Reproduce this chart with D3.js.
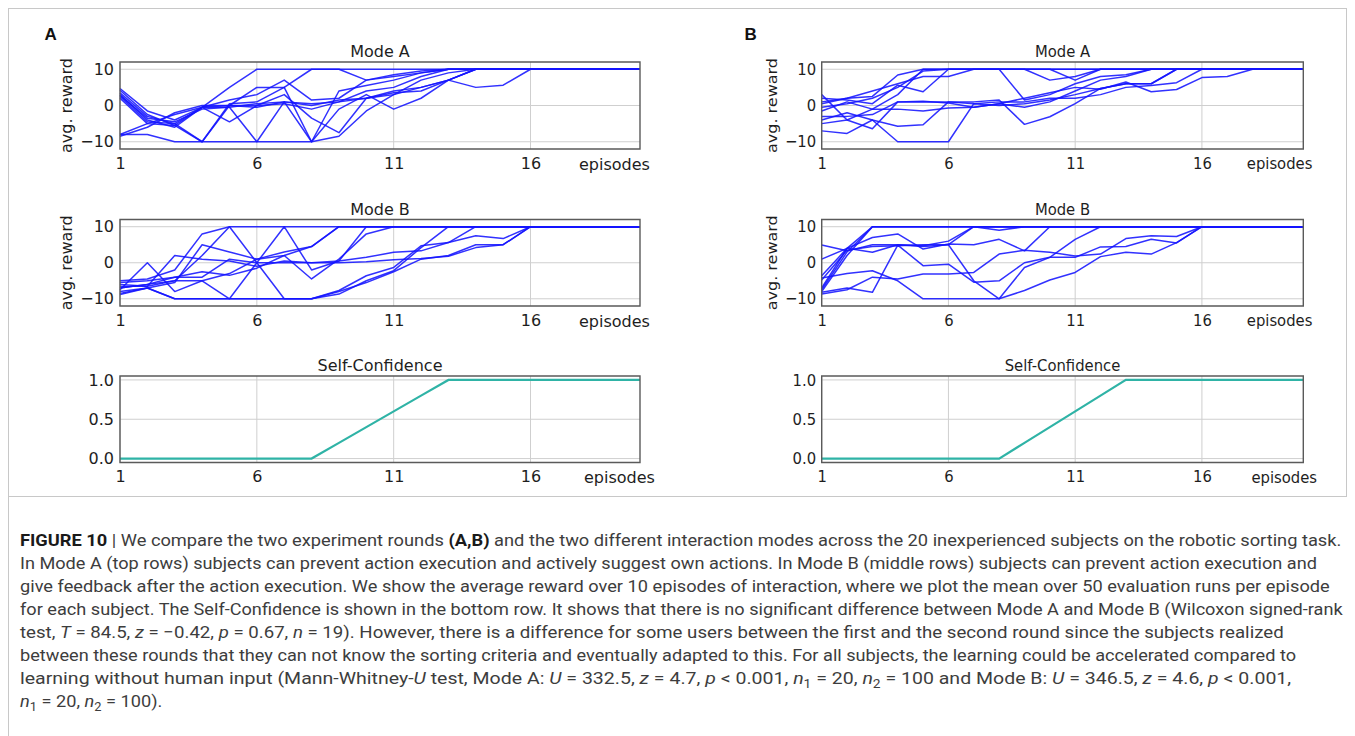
<!DOCTYPE html>
<html><head><meta charset="utf-8">
<script src="https://cdn.jsdelivr.net/npm/d3@7"></script>
<style>
html,body{margin:0;padding:0;background:#fff;}
svg{display:block;}
</style></head>
<body>
<svg id="chart" width="1355" height="736"></svg>
<script>
// ---------------- DATA ----------------
const episodes = [1,2,3,4,5,6,7,8,9,10,11,12,13,14,15,16,17,18,19,20];
const xTicks = [1,6,11,16];
const rewardTicks = [-10,0,10];
const confTicks = [0,0.5,1];
const confTickLabels = ["0.0","0.5","1.0"];
const panelLabels = ["A","B"];
const rowTitles = ["Mode A","Mode B","Self-Confidence"];

const roundA_modeA = [
  [4.7,-1.5,-4,-0.5,5,10,10,10,10,10,10,10,10,10,10,10,10,10,10,10],
  [4.2,-2.5,-5.5,-0.5,1.5,3,7,1.5,2,7,8.5,9.5,10,10,10,10,10,10,10,10],
  [3.5,-3,-5,-10,0,5,5,10,10,7,8,9,10,10,10,10,10,10,10,10],
  [3,-4,-6,-0.5,-4.5,0,3,-3.5,-7.5,2,4,5,7,5,5.6,10,10,10,10,10],
  [2.5,-4.5,-5,-0.5,0,-0.5,1,0.5,1,4,5,8,10,10,10,10,10,10,10,10],
  [2,-5,-5.5,-10,0.5,1,5,-10,4,5.5,7,9,10,10,10,10,10,10,10,10],
  [-8,-8,-10,-10,-10,-10,-10,-10,-8.5,-1.5,3,5,7,10,10,10,10,10,10,10],
  [-8,-5,-2.5,-0.5,-0.5,-10,1,0,1.5,2,3.5,4,7,10,10,10,10,10,10,10],
  [-8.5,-6,-2,0,0,0,0.5,-1,1,2,3,7,9,10,10,10,10,10,10,10],
  [2.8,-3.5,-4.5,-1,-0.5,0.5,1,-10,-1,3,-1,2,7,10,10,10,10,10,10,10]
];
const roundA_modeB = [
  [-5,-4.5,-2,8,10,10,10,10,10,10,10,10,10,10,10,10,10,10,10,10],
  [-6,-6.5,-5,-5,-10,-10,-10,-10,-8.7,-5,-2.2,4.2,10,10,10,10,10,10,10,10],
  [-7,-6,-5,2,10,0,-10,-10,-7.7,-3.6,-1.3,4.7,5.6,10,10,10,10,10,10,10],
  [-8,-7,-10,-10,-10,0,10,-2,0.5,10,10,10,10,10,10,10,10,10,10,10],
  [-8.5,-7,-5.5,5,3,1,3,4.5,10,10,10,10,10,10,10,10,10,10,10,10],
  [-5.5,-5,-4,-4,1,0,0,0,0.5,1.5,2.9,3.3,5.6,7.5,6.7,10,10,10,10,10],
  [-6.5,-6.5,2,1,0.5,-1,0.5,0,0,0.3,0.8,1.2,1.8,4.2,5,10,10,10,10,10],
  [-7.5,0,-8,-5,-3,1,2,4.5,10,10,10,10,10,10,10,10,10,10,10,10],
  [-7,-6,-4,-2.5,-3.5,-1.5,2,-4.5,1,8,10,10,10,10,10,10,10,10,10,10],
  [-8.8,-7,-10,-10,-10,-10,-10,-10,-8,-5.5,-2.5,1,2,5,5,10,10,10,10,10]
];
const roundB_modeA = [
  [-4,-2,-4,-10,-10,-10,0.5,0,0.5,1.5,3,4.7,6,6,10,10,10,10,10,10],
  [-7,-7.7,-4,-5.7,-5.3,1,1,1.5,-5.2,-3.1,0.5,4.7,6,6,10,10,10,10,10,10],
  [3,-4,-6.4,1,1.2,0.7,-0.5,0.5,2,3.5,5,4.5,6.5,3.8,4.4,7.7,8,10,10,10],
  [2,1.5,0.5,5.6,3.8,10,10,10,1.5,3,6,8,8.5,10,10,10,10,10,10,10],
  [1,2,2.5,8.4,10,10,10,10,10,10,7,10,10,10,10,10,10,10,10,10],
  [0.5,2,4,6,8,8,10,10,10,10,10,10,10,10,10,10,10,10,10,10],
  [-0.5,0.5,2,5,9.5,10,10,10,10,10,10,10,10,10,10,10,10,10,10,10],
  [-1.5,1,-1,-1,-1.5,-0.7,-0.5,0.5,-0.5,1,4,7,8,10,10,10,10,10,10,10],
  [-3,-3,-2.5,1,1,1,0.5,1,1,2,2,3,5,5.5,6.3,10,10,10,10,10],
  [-5,-4,-1,3,10,10,10,10,10,7,8,10,10,10,10,10,10,10,10,10]
];
const roundB_modeB = [
  [-7,4,10,10,10,10,10,10,10,10,10,10,10,10,10,10,10,10,10,10],
  [-7.5,3,10,10,10,10,10,10,10,10,10,10,10,10,10,10,10,10,10,10],
  [-8,2,10,10,10,10,10,9,10,10,10,10,10,10,10,10,10,10,10,10],
  [4.9,3.3,5,5,4.5,5,10,10,10,10,10,10,10,10,10,10,10,10,10,10],
  [1,4,2.9,5,4.7,6,10,10,10,10,10,10,10,10,10,10,10,10,10,10],
  [-3.6,4,7,8,3.8,5.2,5,6.5,3.3,10,10,10,10,10,10,10,10,10,10,10],
  [-4.2,-3,-2.2,-5,-10,-10,-10,-10,-7.7,-4.8,-2.7,1.7,2.9,2.4,5.6,10,10,10,10,10],
  [-8.2,-7,-8.2,4.9,-0.8,-0.4,-5.4,-5,0,1.5,1.5,4.4,4.5,6.5,5.5,10,10,10,10,10],
  [-8.7,-7.5,-4,-4.5,-3.1,-3.1,-2.7,2.4,3.5,2.9,1.9,2.4,6.7,7.5,7.3,10,10,10,10,10],
  [-4.8,3.5,4.5,4.7,5,5,-5,-10,-1.3,1.5,6.5,10,10,10,10,10,10,10,10,10]
];
const selfConfA = [0,0,0,0,0,0,0,0,0.2,0.4,0.6,0.8,1,1,1,1,1,1,1,1];
const selfConfB = [0,0,0,0,0,0,0,0,0.2,0.4,0.6,0.8,1,1,1,1,1,1,1,1];

// ---------------- DRAWING ----------------
const svg = d3.select("#chart");
const FONT = "'DejaVu Sans', sans-serif";
const TXT = "#1e1e1e";

// figure frame
svg.append("rect").attr("x",8.5).attr("y",8.5).attr("width",1338).attr("height",488)
  .attr("fill","none").attr("stroke","#c8c8c8").attr("stroke-width",1);
svg.append("line").attr("x1",8.5).attr("x2",8.5).attr("y1",497).attr("y2",736)
  .attr("stroke","#c8c8c8");

const rows = [
  {title:rowTitles[0], top:62,   bottom:149,   type:"reward"},
  {title:rowTitles[1], top:219.5, bottom:306,  type:"reward"},
  {title:rowTitles[2], top:376,  bottom:462.5, type:"conf"}
];

function drawPanel(g, modeA, modeB, conf) {
  const x = d3.scaleLinear().domain([1,20]).range([120,640]);
  const datasets = [modeA, modeB, null];
  rows.forEach((r, ri) => {
    const y = r.type === "reward"
      ? d3.scaleLinear().domain([-12,12]).range([r.bottom, r.top])
      : d3.scaleLinear().domain([-0.05,1.05]).range([r.bottom, r.top]);
    const yT = r.type === "reward" ? rewardTicks : confTicks;
    const rg = g.append("g");
    rg.append("g").selectAll("line").data(xTicks).join("line")
      .attr("x1", d=>x(d)).attr("x2", d=>x(d)).attr("y1", r.top).attr("y2", r.bottom)
      .attr("stroke","#cfcfcf").attr("stroke-width",1).attr("vector-effect","non-scaling-stroke");
    rg.append("g").selectAll("line").data(yT).join("line")
      .attr("x1", 120).attr("x2", 640).attr("y1", d=>y(d)).attr("y2", d=>y(d))
      .attr("stroke","#cfcfcf").attr("stroke-width",1).attr("vector-effect","non-scaling-stroke");
    const line = d3.line().x((d,i)=>x(episodes[i])).y(d=>y(d));
    if (r.type === "reward") {
      rg.append("g").selectAll("path").data(datasets[ri]).join("path")
        .attr("d", line).attr("fill","none").attr("stroke","#1414ff")
        .attr("stroke-opacity",0.88).attr("stroke-width",1.5)
        .attr("stroke-linejoin","round").attr("vector-effect","non-scaling-stroke");
    } else {
      rg.append("path").datum(conf).attr("d", line).attr("fill","none")
        .attr("stroke","#2fb3a6").attr("stroke-width",2.2)
        .attr("vector-effect","non-scaling-stroke");
    }
    rg.append("rect").attr("x",120).attr("y",r.top).attr("width",520).attr("height",r.bottom-r.top)
      .attr("fill","none").attr("stroke","#5a5a5a").attr("stroke-width",1.4)
      .attr("vector-effect","non-scaling-stroke");
    const ax = rg.append("g").attr("transform",`translate(0,${r.bottom})`)
      .call(d3.axisBottom(x).tickValues(xTicks).tickSize(0).tickPadding(8.2));
    const ay = rg.append("g").attr("transform",`translate(120,0)`)
      .call(d3.axisLeft(y).tickValues(yT).tickSize(0).tickPadding(6)
        .tickFormat(r.type === "reward" ? d3.format("d") : ((d,i)=>confTickLabels[i])));
    [ax, ay].forEach(a => {
      a.select(".domain").remove();
      a.selectAll("text").attr("font-family",FONT).attr("font-size",16).attr("fill",TXT);
    });
    rg.append("text").attr("x",380).attr("y", r.top - 4.8).attr("text-anchor","middle")
      .attr("font-family",FONT).attr("font-size",16).attr("fill",TXT).text(r.title);
    rg.append("text").attr("x", r.type==="conf" ? 584 : 579).attr("y", r.bottom + 20.5)
      .attr("font-family",FONT).attr("font-size",16).attr("fill",TXT).text("episodes");
    if (r.type === "reward") {
      rg.append("text").attr("transform",`translate(72,${(r.top+r.bottom)/2}) rotate(-90)`)
        .attr("text-anchor","middle").attr("font-family",FONT).attr("font-size",16)
        .attr("fill",TXT).text("avg. reward");
    }
  });
}

const sxB = 481.6/520;
const gA = svg.append("g");
drawPanel(gA, roundA_modeA, roundA_modeB, selfConfA);
const gB = svg.append("g").attr("transform",`translate(${821.7-120*sxB},0) scale(${sxB},1)`);
drawPanel(gB, roundB_modeA, roundB_modeB, selfConfB);

svg.selectAll("text.plabel").data(panelLabels).join("text")
  .attr("x",(d,i)=> i===0 ? 44.5 : 744.5).attr("y",40)
  .attr("font-family","'Liberation Sans', Arial, sans-serif").attr("font-weight","bold")
  .attr("font-size",17).attr("fill","#111").text(d=>d);

// ---------------- CAPTION ----------------
const captionLines = [
 [{t:"FIGURE 10",b:1},{t:" | "},{t:"We compare the two experiment rounds "},{t:"(A,B)",b:1},{t:" and the two different interaction modes across the 20 inexperienced subjects on the robotic sorting task."}],
 [{t:"In Mode A (top rows) subjects can prevent action execution and actively suggest own actions. In Mode B (middle rows) subjects can prevent action execution and"}],
 [{t:"give feedback after the action execution. We show the average reward over 10 episodes of interaction, where we plot the mean over 50 evaluation runs per episode"}],
 [{t:"for each subject. The Self-Confidence is shown in the bottom row. It shows that there is no significant difference between Mode A and Mode B (Wilcoxon signed-rank"}],
 [{t:"test, "},{t:"T",i:1},{t:" = 84.5, "},{t:"z",i:1},{t:" = \u22120.42, "},{t:"p",i:1},{t:" = 0.67, "},{t:"n",i:1},{t:" = 19). However, there is a difference for some users between the first and the second round since the subjects realized"}],
 [{t:"between these rounds that they can not know the sorting criteria and eventually adapted to this. For all subjects, the learning could be accelerated compared to"}],
 [{t:"learning without human input (Mann-Whitney-"},{t:"U",i:1},{t:" test, Mode A: "},{t:"U",i:1},{t:" = 332.5, "},{t:"z",i:1},{t:" = 4.7, "},{t:"p",i:1},{t:" < 0.001, "},{t:"n",i:1},{t:"1",s:1},{t:" = 20, "},{t:"n",i:1},{t:"2",s:1},{t:" = 100 and Mode B: "},{t:"U",i:1},{t:" = 346.5, "},{t:"z",i:1},{t:" = 4.6, "},{t:"p",i:1},{t:" < 0.001,"}],
 [{t:"n",i:1},{t:"1",s:1},{t:" = 20, "},{t:"n",i:1},{t:"2",s:1},{t:" = 100)."}]
];
const captionEnds = [1343,1318,1330,1343,1285,1297,1292,null];
const capX = 20, capY0 = 546, capDy = 23;
const capG = svg.append("g");
const scales = [];
const capNodes = captionLines.map((segs, li) => {
  const t = capG.append("text").attr("x",0).attr("y",0)
    .attr("font-family","Roboto, 'Liberation Sans', sans-serif")
    .attr("font-size",17).attr("fill","#3d3d3d");
  let shifted = false;
  segs.forEach(s => {
    const ts = t.append("tspan").text(s.t);
    if (s.b) ts.attr("font-weight","bold").attr("fill","#1a1a1a");
    if (s.i) ts.attr("font-style","italic");
    if (s.s) { ts.attr("font-size",12).attr("dy",3.5); shifted = true; }
    else if (shifted) { ts.attr("dy",-3.5); shifted = false; }
  });
  const w = t.node().getComputedTextLength();
  if (captionEnds[li]) scales.push((captionEnds[li]-capX)/w);
  return {t, w, li};
});
const medS = d3.median(scales);
capNodes.forEach(({t, w, li}) => {
  const s = captionEnds[li] ? (captionEnds[li]-capX)/w : medS;
  t.attr("transform",`translate(${capX},${capY0 + li*capDy}) scale(${s},1)`);
});
</script>
</body></html>
